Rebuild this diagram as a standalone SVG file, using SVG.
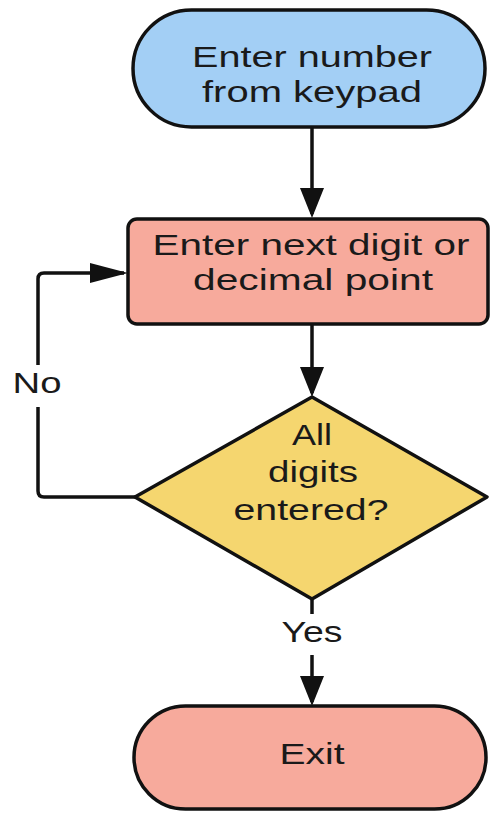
<svg xmlns="http://www.w3.org/2000/svg" width="490" height="813" viewBox="0 0 490 813">
  <style>
    .shape { stroke: #111; stroke-width: 3.5; }
    .blue { fill: #a3cff5; }
    .pink { fill: #f7aa9c; }
    .yellow { fill: #f5d66f; }
    .lbl { font-family: "Liberation Sans", Arial, sans-serif; font-size: 29px; fill: #1a1a1a; text-anchor: middle; }
    .conn { fill: none; stroke: #111; stroke-width: 3.5; stroke-linejoin: round; }
  </style>
  <defs>
    <marker id="arrV" viewBox="0 0 30 24" markerWidth="30" markerHeight="24" markerUnits="userSpaceOnUse" refX="26" refY="12" orient="auto">
      <path d="M0,0 L30,12 L0,24 z" fill="#111"/>
    </marker>
    <marker id="arrH" viewBox="0 0 38 20" markerWidth="38" markerHeight="20" markerUnits="userSpaceOnUse" refX="34" refY="10" orient="auto">
      <path d="M0,0 L38,10 L0,20 z" fill="#111"/>
    </marker>
  </defs>

  <g id="connectors">
    <path class="conn" d="M312,128 L312,214" marker-end="url(#arrV)"/>
    <path class="conn" d="M312,324 L312,393" marker-end="url(#arrV)"/>
    <path class="conn" d="M135,497 L44,497 Q38,497 38,491 L38,407"/>
    <path class="conn" d="M38,365 L38,279 Q38,273 44,273 L124,273" marker-end="url(#arrH)"/>
    <path class="conn" d="M312,600 L312,614"/>
    <path class="conn" d="M312,655 L312,702" marker-end="url(#arrV)"/>
    <text class="lbl" x="37" y="393" textLength="49" lengthAdjust="spacingAndGlyphs">No</text>
    <text class="lbl" x="312" y="642" textLength="61" lengthAdjust="spacingAndGlyphs">Yes</text>
  </g>

  <g id="start">
    <rect class="shape blue" x="133" y="10" width="352" height="117" rx="58.5" ry="58.5"/>
    <text class="lbl" x="312" y="67" textLength="240" lengthAdjust="spacingAndGlyphs">Enter number</text>
    <text class="lbl" x="312" y="102" textLength="220" lengthAdjust="spacingAndGlyphs">from keypad</text>
  </g>

  <g id="enter-digit">
    <rect class="shape pink" x="128" y="219" width="360" height="105" rx="9" ry="9"/>
    <text class="lbl" x="311" y="255" textLength="317" lengthAdjust="spacingAndGlyphs">Enter next digit or</text>
    <text class="lbl" x="313" y="290" textLength="240" lengthAdjust="spacingAndGlyphs">decimal point</text>
  </g>

  <g id="decision">
    <path class="shape yellow" d="M312,397 L487,497 L312,599 L135,497 Z" stroke-linejoin="round"/>
    <text class="lbl" x="312" y="445" textLength="40" lengthAdjust="spacingAndGlyphs">All</text>
    <text class="lbl" x="313" y="482" textLength="90" lengthAdjust="spacingAndGlyphs">digits</text>
    <text class="lbl" x="311" y="520" textLength="155" lengthAdjust="spacingAndGlyphs">entered?</text>
  </g>

  <g id="exit">
    <rect class="shape pink" x="134" y="706" width="352" height="103" rx="51.5" ry="51.5"/>
    <text class="lbl" x="312" y="764" textLength="65" lengthAdjust="spacingAndGlyphs">Exit</text>
  </g>
</svg>
